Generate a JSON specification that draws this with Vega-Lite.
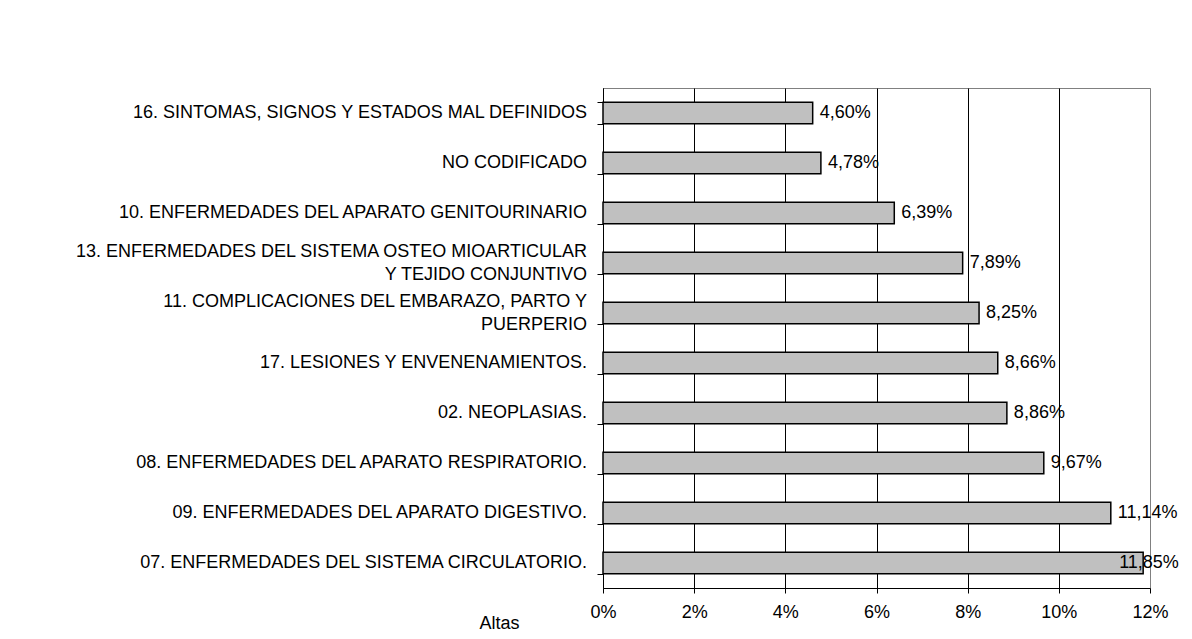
{
  "$schema": "https://vega.github.io/schema/vega-lite/v6.json",
  "width": 547,
  "height": 500,
  "autosize": {"type": "none"},
  "padding": {"left": 603, "top": 88, "right": 42, "bottom": 51},
  "background": "white",
  "data": {
    "values": [
      {"cat": "16. SINTOMAS, SIGNOS Y ESTADOS MAL DEFINIDOS", "v": 0.046},
      {"cat": "NO CODIFICADO", "v": 0.0478},
      {"cat": "10. ENFERMEDADES DEL APARATO GENITOURINARIO", "v": 0.0639},
      {"cat": "13. ENFERMEDADES DEL SISTEMA OSTEO MIOARTICULAR|Y TEJIDO CONJUNTIVO", "v": 0.0789},
      {"cat": "11. COMPLICACIONES DEL EMBARAZO, PARTO Y|PUERPERIO", "v": 0.0825},
      {"cat": "17. LESIONES Y ENVENENAMIENTOS.", "v": 0.0866},
      {"cat": "02. NEOPLASIAS.", "v": 0.0886},
      {"cat": "08. ENFERMEDADES DEL APARATO RESPIRATORIO.", "v": 0.0967},
      {"cat": "09. ENFERMEDADES DEL APARATO DIGESTIVO.", "v": 0.1114},
      {"cat": "07. ENFERMEDADES DEL SISTEMA CIRCULATORIO.", "v": 0.1185}
    ]
  },
  "encoding": {
    "y": {
      "field": "cat",
      "type": "nominal",
      "sort": null,
      "scale": {"paddingInner": 0.57, "paddingOuter": 0.285},
      "axis": {
        "title": "Altas",
        "titleAngle": 0,
        "titleX": -104,
        "titleY": 535,
        "titleAlign": "center",
        "titleBaseline": "middle",
        "titleFontSize": 18,
        "titleFontWeight": "normal",
        "titleColor": "black",
        "labels": false,
        "tickBand": "extent",
        "tickSize": 6,
        "tickColor": "black",
        "domainColor": "black",
        "grid": false
      }
    },
    "x": {
      "field": "v",
      "type": "quantitative",
      "scale": {"domain": [0, 0.12], "nice": false},
      "axis": {
        "title": null,
        "format": ".0%",
        "values": [0, 0.02, 0.04, 0.06, 0.08, 0.1, 0.12],
        "labelFontSize": 18,
        "labelColor": "black",
        "labelPadding": 10,
        "labelFlush": false,
        "tickSize": 5,
        "tickColor": "black",
        "domainColor": "black",
        "grid": true,
        "gridColor": {"condition": {"test": "datum.value >= 0.119", "value": "#808080"}, "value": "black"},
        "gridOpacity": 1
      }
    }
  },
  "layer": [
    {"mark": {"type": "bar", "fill": "#c0c0c0", "stroke": "black", "strokeWidth": 1.5}},
    {
      "transform": [{"filter": "datum.v < 0.115"}],
      "mark": {"type": "text", "align": "left", "baseline": "middle", "dx": 7, "fontSize": 18, "color": "black"},
      "encoding": {"text": {"field": "v", "type": "quantitative", "format": ".2%"}}
    },
    {
      "transform": [{"filter": "datum.v >= 0.115"}],
      "mark": {"type": "text", "align": "left", "baseline": "middle", "dx": -24, "fontSize": 18, "color": "black"},
      "encoding": {"text": {"field": "v", "type": "quantitative", "format": ".2%"}}
    },
    {
      "transform": [{"filter": "indexof(datum.cat, '|') < 0"}],
      "mark": {"type": "text", "align": "right", "baseline": "middle", "dx": -16, "fontSize": 18, "color": "black"},
      "encoding": {"x": {"datum": 0, "type": "quantitative"}, "text": {"field": "cat", "type": "nominal"}}
    },
    {
      "transform": [{"filter": "indexof(datum.cat, '|') >= 0"}],
      "mark": {"type": "text", "align": "right", "baseline": "middle", "dx": -16, "dy": -11.5, "lineBreak": "|", "lineHeight": 23, "fontSize": 18, "color": "black"},
      "encoding": {"x": {"datum": 0, "type": "quantitative"}, "text": {"field": "cat", "type": "nominal"}}
    }
  ],
  "config": {
    "font": "Liberation Sans",
    "view": {"stroke": "#808080", "strokeWidth": 1},
    "locale": {"number": {"decimal": ",", "thousands": ".", "grouping": [3], "currency": ["", " €"]}}
  }
}
